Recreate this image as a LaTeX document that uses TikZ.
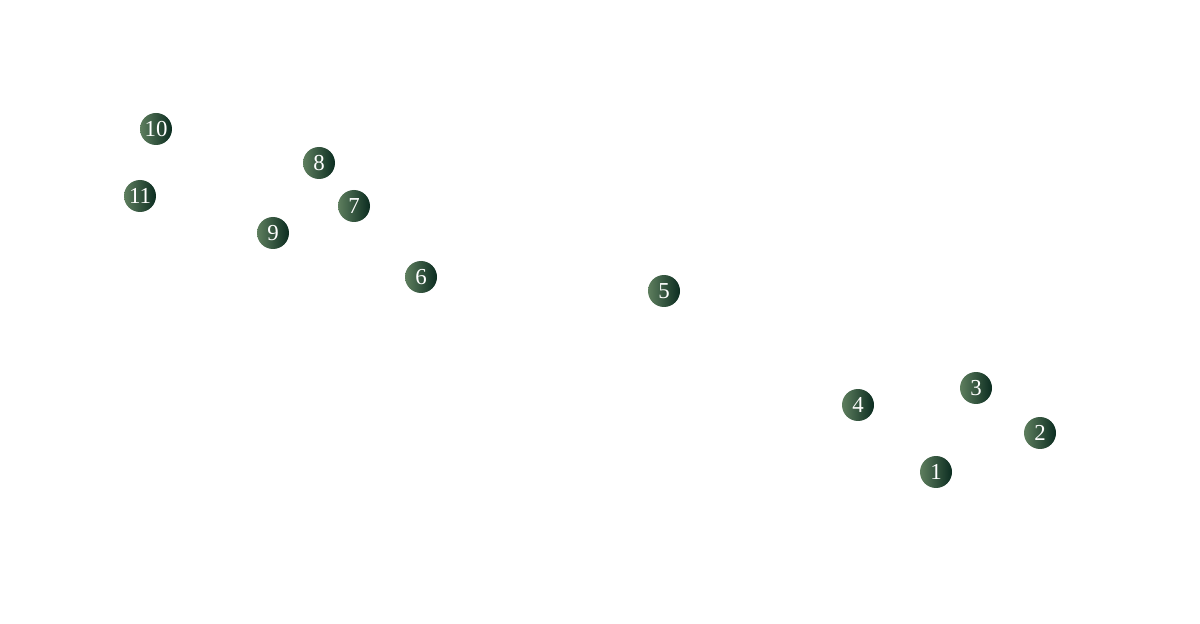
\documentclass[tikz,border=0pt]{standalone}
\usepackage{fontspec}
\setmainfont{Liberation Serif}
\usepackage{tikz}
\definecolor{leafl}{HTML}{5E7E5E}
\definecolor{leafd}{HTML}{0B2C20}
\begin{document}
\begin{tikzpicture}
[x=0.02cm, y=-0.02cm, every node/.style={circle,left color=leafl,right color=leafd,text=white,minimum size=0.64cm,inner sep=0pt,font=\fontsize{13}{15}\selectfont}]
\useasboundingbox (0,0) rectangle (1200,624);
\node (n1) at (936,472) {1};
\node (n2) at (1040,433) {2};
\node (n3) at (976,388) {3};
\node (n4) at (858,405) {4};
\node (n5) at (664,291) {5};
\node (n6) at (421,277) {6};
\node (n7) at (354,206) {7};
\node (n8) at (319,163) {8};
\node (n9) at (273,233) {9};
\node (n10) at (156,129) {10};
\node (n11) at (140,196) {11};

\end{tikzpicture}
\end{document}
